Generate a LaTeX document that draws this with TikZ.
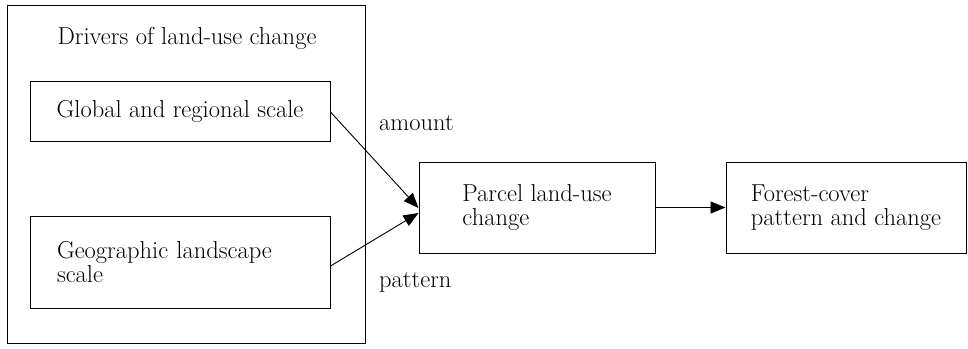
\documentclass[tikz,border=0pt]{standalone}
\usetikzlibrary{arrows.meta,calc}
\begin{document}
\begin{tikzpicture}[x=1pt,y=-1pt,
  every node/.style={font=\fontsize{24.5}{24}\selectfont},
  box/.style={draw,line width=1pt,inner sep=0pt,align=left},
  arr/.style={line width=0.9pt,-{Triangle[length=15pt,width=12pt]}}]
\useasboundingbox (0,0) rectangle (968,348);
\node[box,minimum width=358pt,minimum height=338pt] (outer) at (186,174) {};
\node (title) at (187,38) {Drivers of land-use change};
\node[box,minimum width=300pt,minimum height=60pt] (global) at (180,111) {Global and regional scale};
\node[box,minimum width=300pt,minimum height=92pt,text width=246pt,inner xsep=27pt] (geo) at (180,262) {Geographic landscape\\scale};
\node[box,minimum width=236pt,minimum height=91pt] (parcel) at (537,207.5) {Parcel land-use\\change};
\node[box,minimum width=240pt,minimum height=91pt] (forest) at (846,207.5) {Forest-cover\\pattern and change};
\node[anchor=west,inner sep=0pt] (amount) at (379,123) {amount};
\node[anchor=west,inner sep=0pt] (pattern) at (379,282) {pattern};
\draw[arr] ($(global.east)+(0,1)$) -- ($(parcel.west)+(0,0.5)$);
\draw[arr] ($(geo.east)+(0,4)$) -- ($(parcel.west)+(0,5.5)$);
\draw[arr] (parcel.east) -- (forest.west);
\end{tikzpicture}
\end{document}
